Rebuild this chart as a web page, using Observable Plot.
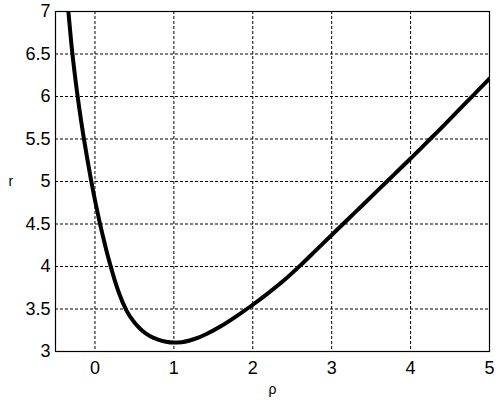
<!DOCTYPE html>
<html>
<head>
<meta charset="utf-8">
<script src="https://cdn.jsdelivr.net/npm/d3@7"></script>
<script src="https://cdn.jsdelivr.net/npm/@observablehq/plot@0.6"></script>
<style>
  html, body { margin: 0; padding: 0; background: #fff; }
  svg { display: block; }
</style>
</head>
<body>
<div id="chart"></div>
<script>
const rho = [-0.337, -0.3, -0.25, -0.2, -0.15, -0.1, -0.05, 0, 0.05, 0.1, 0.15, 0.2, 0.25, 0.3, 0.4, 0.5, 0.6, 0.7, 0.8, 0.9, 1.0, 1.1, 1.2, 1.3, 1.4, 1.6, 1.8, 2.0, 2.2, 2.4, 2.6, 2.8, 3.0, 3.2, 3.4, 3.6, 3.8, 4.0, 4.2, 4.4, 4.6, 4.8, 5.0];
const r   = [7.0, 6.63, 6.22, 5.87, 5.56, 5.28, 5.02, 4.78, 4.56, 4.36, 4.17, 4.0, 3.84, 3.70, 3.48, 3.34, 3.245, 3.18, 3.14, 3.115, 3.105, 3.11, 3.13, 3.16, 3.2, 3.30, 3.42, 3.55, 3.69, 3.84, 4.01, 4.19, 4.37, 4.55, 4.73, 4.91, 5.09, 5.27, 5.455, 5.64, 5.83, 6.02, 6.21];
const xTicks = [0, 1, 2, 3, 4, 5];
const yTicks = [3, 3.5, 4, 4.5, 5, 5.5, 6, 6.5, 7];
const xLabel = "ρ";
const yLabel = "r";

const data = rho.map((x, i) => ({x, y: r[i]}));

const chart = Plot.plot({
  width: 501,
  height: 400,
  marginLeft: 55,
  marginRight: 12,
  marginTop: 11,
  marginBottom: 49,
  style: {fontFamily: "'Liberation Sans', Arial, sans-serif", fontSize: "18px", color: "black", background: "white"},
  x: {domain: [-0.5, 5]},
  y: {domain: [3, 7]},
  marks: [
    Plot.gridX(xTicks.slice(0, -1), {stroke: "black", strokeOpacity: 1, strokeWidth: 1, strokeDasharray: "3,2"}),
    Plot.gridY(yTicks.slice(1, -1), {stroke: "black", strokeOpacity: 1, strokeWidth: 1, strokeDasharray: "3,2"}),
    Plot.line(data, {x: "x", y: "y", curve: "monotone-x", stroke: "black", strokeWidth: 4, clip: true}),
    Plot.frame({stroke: "black", strokeWidth: 1.2}),
    Plot.axisX(xTicks, {tickSize: 0, tickPadding: 10, fontSize: 18, label: null, tickFormat: d => String(d)}),
    Plot.axisY(yTicks, {tickSize: 0, tickPadding: 5, fontSize: 18, label: null, tickFormat: d => String(d)}),
    Plot.text([xLabel], {frameAnchor: "bottom", dy: 42, fontSize: 14, fill: "black"}),
    Plot.text([yLabel], {frameAnchor: "left", dx: -47, dy: 0, fontSize: 14, fill: "black"})
  ]
});
document.getElementById("chart").appendChild(chart);
</script>
</body>
</html>
